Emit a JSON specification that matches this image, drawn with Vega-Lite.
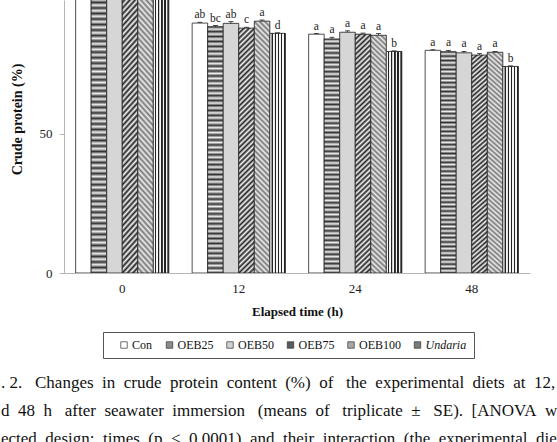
{
  "$schema": "https://vega.github.io/schema/vega-lite/v6.json",
  "width": 466,
  "height": 273,
  "autosize": "none",
  "padding": {"left": 64, "right": 27, "top": 0, "bottom": 169},
  "background": "#ffffff",
  "config": {
    "view": {"stroke": null},
    "font": "Liberation Serif",
    "axis": {"labelFont": "Liberation Serif", "titleFont": "Liberation Serif", "labelColor": "#222", "titleColor": "#111", "grid": false},
    "legend": {"labelFont": "Liberation Serif"}
  },
  "title": {
    "text": [
      ". 2.\u00a0 \u00a0Changes\u00a0 in\u00a0 crude\u00a0 protein\u00a0 content\u00a0 (%)\u00a0 of\u00a0\u00a0 the\u00a0 experimental\u00a0 diets\u00a0 at\u00a0 12,",
      "d\u00a0 48\u00a0 h\u00a0\u00a0 after\u00a0 seawater\u00a0 immersion\u00a0\u00a0 (means\u00a0 of\u00a0\u00a0 triplicate\u00a0 ±\u00a0\u00a0 SE).\u00a0 [ANOVA\u00a0 w",
      "ected\u00a0 design:\u00a0 times\u00a0 (p\u00a0 <\u00a0 0.0001)\u00a0 and\u00a0 their\u00a0 interaction\u00a0 (the\u00a0 experimental\u00a0 diet"
    ],
    "orient": "bottom",
    "anchor": "start",
    "frame": "group",
    "font": "Liberation Serif",
    "fontSize": 17,
    "fontWeight": "normal",
    "color": "#111",
    "lineHeight": 28,
    "baseline": "top",
    "dx": -63,
    "offset": 16
  },
  "data": {
    "values": [
      {"time": "0", "diet": "Con", "value": 99.6, "hi": 99.9, "letter": ""},
      {"time": "0", "diet": "OEB25", "value": 99.3, "hi": 99.6, "letter": ""},
      {"time": "0", "diet": "OEB50", "value": 99.5, "hi": 99.8, "letter": ""},
      {"time": "0", "diet": "OEB75", "value": 99.4, "hi": 99.7, "letter": ""},
      {"time": "0", "diet": "OEB100", "value": 99.6, "hi": 99.9, "letter": ""},
      {"time": "0", "diet": "Undaria", "value": 99.2, "hi": 99.5, "letter": ""},
      {"time": "12", "diet": "Con", "value": 89.9, "hi": 90.2, "letter": "ab"},
      {"time": "12", "diet": "OEB25", "value": 88.6, "hi": 89.0, "letter": "bc"},
      {"time": "12", "diet": "OEB50", "value": 89.8, "hi": 90.4, "letter": "ab"},
      {"time": "12", "diet": "OEB75", "value": 88.1, "hi": 88.4, "letter": "c"},
      {"time": "12", "diet": "OEB100", "value": 90.6, "hi": 91.0, "letter": "a"},
      {"time": "12", "diet": "Undaria", "value": 86.2, "hi": 86.4, "letter": "d"},
      {"time": "24", "diet": "Con", "value": 85.9, "hi": 86.1, "letter": "a"},
      {"time": "24", "diet": "OEB25", "value": 84.2, "hi": 84.8, "letter": "a"},
      {"time": "24", "diet": "OEB50", "value": 86.6, "hi": 87.1, "letter": "a"},
      {"time": "24", "diet": "OEB75", "value": 85.9, "hi": 86.3, "letter": "a"},
      {"time": "24", "diet": "OEB100", "value": 85.5, "hi": 86.1, "letter": "a"},
      {"time": "24", "diet": "Undaria", "value": 79.7, "hi": 79.9, "letter": "b"},
      {"time": "48", "diet": "Con", "value": 80.1, "hi": 80.3, "letter": "a"},
      {"time": "48", "diet": "OEB25", "value": 79.6, "hi": 80.1, "letter": "a"},
      {"time": "48", "diet": "OEB50", "value": 79.2, "hi": 79.7, "letter": "a"},
      {"time": "48", "diet": "OEB75", "value": 78.4, "hi": 78.9, "letter": "a"},
      {"time": "48", "diet": "OEB100", "value": 79.4, "hi": 79.7, "letter": "a"},
      {"time": "48", "diet": "Undaria", "value": 74.3, "hi": 74.5, "letter": "b"}
    ]
  },
  "encoding": {
    "x": {
      "field": "time", "type": "nominal", "sort": ["0", "12", "24", "48"],
      "scale": {"paddingInner": 0.2, "paddingOuter": 0.1},
      "axis": {
        "title": "Elapsed time (h)", "titleFontWeight": "bold", "titleFontSize": 13, "titlePadding": 10,
        "labelAngle": 0, "labelFontSize": 13, "labelPadding": 9, "ticks": false,
        "domainColor": "#b5b5b5", "domainWidth": 1
      }
    },
    "xOffset": {
      "field": "diet", "type": "nominal",
      "sort": ["Con", "OEB25", "OEB50", "OEB75", "OEB100", "Undaria"],
      "scale": {"paddingInner": 0, "paddingOuter": 0}
    }
  },
  "layer": [
    {
      "mark": {"type": "bar", "clip": true},
      "encoding": {
        "y": {
          "field": "value", "type": "quantitative",
          "scale": {"domain": [0, 98.2], "nice": false},
          "axis": {
            "title": "Crude protein (%)", "titleFontWeight": "bold", "titleFontSize": 14,
            "titleAngle": 270, "titleX": -47, "titleY": 119, "titleAlign": "center", "titleBaseline": "middle",
            "values": [0, 50], "labelFontSize": 13, "labelPadding": 7, "tickSize": 5,
            "tickColor": "#b5b5b5", "domainColor": "#b5b5b5"
          }
        },
        "fill": {
          "field": "diet", "type": "nominal",
          "sort": ["Con", "OEB25", "OEB50", "OEB75", "OEB100", "Undaria"],
          "scale": {"domain": ["Con", "OEB25", "OEB50", "OEB75", "OEB100", "Undaria"], "range": ["#ffffff", "#8c8c8c", "#d2d2d2", "#5a5a5a", "#a8a8a8", "#7a7a7a"]},
          "legend": {
            "orient": "none", "legendX": 39, "legendY": 332, "direction": "horizontal", "columns": 6,
            "title": null, "strokeColor": "#555", "fillColor": "#ffffff", "padding": 7,
            "symbolType": "square", "symbolSize": 42, "symbolStrokeColor": "#333", "symbolStrokeWidth": 0.7,
            "symbolOpacity": 1, "labelFontSize": 12, "labelColor": "#111", "labelOffset": 2,
            "columnPadding": 2.5, "symbolOffset": 8,
            "labelFontStyle": {"expr": "datum.label === 'Undaria' ? 'italic' : 'normal'"}
          }
        }
      }
    },
    {
      "mark": {"type": "bar", "clip": true, "stroke": "#222", "strokeWidth": 0.8},
      "encoding": {
        "y": {"field": "value", "type": "quantitative"},
        "fill": {
          "condition": [
            {"test": "datum.diet === 'OEB25'", "value": {"gradient": "linear", "x1": 0, "y1": 0, "x2": 0, "y2": 1, "stops": [
              {"offset": 0, "color": "#333"},{"offset": 0.01, "color": "#eee"},{"offset": 0.02, "color": "#333"},{"offset": 0.03, "color": "#eee"},{"offset": 0.04, "color": "#333"},{"offset": 0.05, "color": "#eee"},{"offset": 0.06, "color": "#333"},{"offset": 0.07, "color": "#eee"},{"offset": 0.08, "color": "#333"},{"offset": 0.09, "color": "#eee"},
              {"offset": 0.1, "color": "#333"},{"offset": 0.11, "color": "#eee"},{"offset": 0.12, "color": "#333"},{"offset": 0.13, "color": "#eee"},{"offset": 0.14, "color": "#333"},{"offset": 0.15, "color": "#eee"},{"offset": 0.16, "color": "#333"},{"offset": 0.17, "color": "#eee"},{"offset": 0.18, "color": "#333"},{"offset": 0.19, "color": "#eee"},
              {"offset": 0.2, "color": "#333"},{"offset": 0.21, "color": "#eee"},{"offset": 0.22, "color": "#333"},{"offset": 0.23, "color": "#eee"},{"offset": 0.24, "color": "#333"},{"offset": 0.25, "color": "#eee"},{"offset": 0.26, "color": "#333"},{"offset": 0.27, "color": "#eee"},{"offset": 0.28, "color": "#333"},{"offset": 0.29, "color": "#eee"},
              {"offset": 0.3, "color": "#333"},{"offset": 0.31, "color": "#eee"},{"offset": 0.32, "color": "#333"},{"offset": 0.33, "color": "#eee"},{"offset": 0.34, "color": "#333"},{"offset": 0.35, "color": "#eee"},{"offset": 0.36, "color": "#333"},{"offset": 0.37, "color": "#eee"},{"offset": 0.38, "color": "#333"},{"offset": 0.39, "color": "#eee"},
              {"offset": 0.4, "color": "#333"},{"offset": 0.41, "color": "#eee"},{"offset": 0.42, "color": "#333"},{"offset": 0.43, "color": "#eee"},{"offset": 0.44, "color": "#333"},{"offset": 0.45, "color": "#eee"},{"offset": 0.46, "color": "#333"},{"offset": 0.47, "color": "#eee"},{"offset": 0.48, "color": "#333"},{"offset": 0.49, "color": "#eee"},
              {"offset": 0.5, "color": "#333"},{"offset": 0.51, "color": "#eee"},{"offset": 0.52, "color": "#333"},{"offset": 0.53, "color": "#eee"},{"offset": 0.54, "color": "#333"},{"offset": 0.55, "color": "#eee"},{"offset": 0.56, "color": "#333"},{"offset": 0.57, "color": "#eee"},{"offset": 0.58, "color": "#333"},{"offset": 0.59, "color": "#eee"},
              {"offset": 0.6, "color": "#333"},{"offset": 0.61, "color": "#eee"},{"offset": 0.62, "color": "#333"},{"offset": 0.63, "color": "#eee"},{"offset": 0.64, "color": "#333"},{"offset": 0.65, "color": "#eee"},{"offset": 0.66, "color": "#333"},{"offset": 0.67, "color": "#eee"},{"offset": 0.68, "color": "#333"},{"offset": 0.69, "color": "#eee"},
              {"offset": 0.7, "color": "#333"},{"offset": 0.71, "color": "#eee"},{"offset": 0.72, "color": "#333"},{"offset": 0.73, "color": "#eee"},{"offset": 0.74, "color": "#333"},{"offset": 0.75, "color": "#eee"},{"offset": 0.76, "color": "#333"},{"offset": 0.77, "color": "#eee"},{"offset": 0.78, "color": "#333"},{"offset": 0.79, "color": "#eee"},
              {"offset": 0.8, "color": "#333"},{"offset": 0.81, "color": "#eee"},{"offset": 0.82, "color": "#333"},{"offset": 0.83, "color": "#eee"},{"offset": 0.84, "color": "#333"},{"offset": 0.85, "color": "#eee"},{"offset": 0.86, "color": "#333"},{"offset": 0.87, "color": "#eee"},{"offset": 0.88, "color": "#333"},{"offset": 0.89, "color": "#eee"},
              {"offset": 0.9, "color": "#333"},{"offset": 0.91, "color": "#eee"},{"offset": 0.92, "color": "#333"},{"offset": 0.93, "color": "#eee"},{"offset": 0.94, "color": "#333"},{"offset": 0.95, "color": "#eee"},{"offset": 0.96, "color": "#333"},{"offset": 0.97, "color": "#eee"},{"offset": 0.98, "color": "#333"},{"offset": 0.99, "color": "#eee"},
              {"offset": 1, "color": "#333"}
            ]}},
            {"test": "datum.diet === 'OEB50'", "value": "#d6d6d6"},
            {"test": "datum.diet === 'OEB75'", "value": {"gradient": "linear", "x1": 0, "y1": 0, "x2": 0.066, "y2": 1.06, "stops": [
              {"offset": 0, "color": "#222"},{"offset": 0.01, "color": "#f5f5f5"},{"offset": 0.02, "color": "#222"},{"offset": 0.03, "color": "#f5f5f5"},{"offset": 0.04, "color": "#222"},{"offset": 0.05, "color": "#f5f5f5"},{"offset": 0.06, "color": "#222"},{"offset": 0.07, "color": "#f5f5f5"},{"offset": 0.08, "color": "#222"},{"offset": 0.09, "color": "#f5f5f5"},
              {"offset": 0.1, "color": "#222"},{"offset": 0.11, "color": "#f5f5f5"},{"offset": 0.12, "color": "#222"},{"offset": 0.13, "color": "#f5f5f5"},{"offset": 0.14, "color": "#222"},{"offset": 0.15, "color": "#f5f5f5"},{"offset": 0.16, "color": "#222"},{"offset": 0.17, "color": "#f5f5f5"},{"offset": 0.18, "color": "#222"},{"offset": 0.19, "color": "#f5f5f5"},
              {"offset": 0.2, "color": "#222"},{"offset": 0.21, "color": "#f5f5f5"},{"offset": 0.22, "color": "#222"},{"offset": 0.23, "color": "#f5f5f5"},{"offset": 0.24, "color": "#222"},{"offset": 0.25, "color": "#f5f5f5"},{"offset": 0.26, "color": "#222"},{"offset": 0.27, "color": "#f5f5f5"},{"offset": 0.28, "color": "#222"},{"offset": 0.29, "color": "#f5f5f5"},
              {"offset": 0.3, "color": "#222"},{"offset": 0.31, "color": "#f5f5f5"},{"offset": 0.32, "color": "#222"},{"offset": 0.33, "color": "#f5f5f5"},{"offset": 0.34, "color": "#222"},{"offset": 0.35, "color": "#f5f5f5"},{"offset": 0.36, "color": "#222"},{"offset": 0.37, "color": "#f5f5f5"},{"offset": 0.38, "color": "#222"},{"offset": 0.39, "color": "#f5f5f5"},
              {"offset": 0.4, "color": "#222"},{"offset": 0.41, "color": "#f5f5f5"},{"offset": 0.42, "color": "#222"},{"offset": 0.43, "color": "#f5f5f5"},{"offset": 0.44, "color": "#222"},{"offset": 0.45, "color": "#f5f5f5"},{"offset": 0.46, "color": "#222"},{"offset": 0.47, "color": "#f5f5f5"},{"offset": 0.48, "color": "#222"},{"offset": 0.49, "color": "#f5f5f5"},
              {"offset": 0.5, "color": "#222"},{"offset": 0.51, "color": "#f5f5f5"},{"offset": 0.52, "color": "#222"},{"offset": 0.53, "color": "#f5f5f5"},{"offset": 0.54, "color": "#222"},{"offset": 0.55, "color": "#f5f5f5"},{"offset": 0.56, "color": "#222"},{"offset": 0.57, "color": "#f5f5f5"},{"offset": 0.58, "color": "#222"},{"offset": 0.59, "color": "#f5f5f5"},
              {"offset": 0.6, "color": "#222"},{"offset": 0.61, "color": "#f5f5f5"},{"offset": 0.62, "color": "#222"},{"offset": 0.63, "color": "#f5f5f5"},{"offset": 0.64, "color": "#222"},{"offset": 0.65, "color": "#f5f5f5"},{"offset": 0.66, "color": "#222"},{"offset": 0.67, "color": "#f5f5f5"},{"offset": 0.68, "color": "#222"},{"offset": 0.69, "color": "#f5f5f5"},
              {"offset": 0.7, "color": "#222"},{"offset": 0.71, "color": "#f5f5f5"},{"offset": 0.72, "color": "#222"},{"offset": 0.73, "color": "#f5f5f5"},{"offset": 0.74, "color": "#222"},{"offset": 0.75, "color": "#f5f5f5"},{"offset": 0.76, "color": "#222"},{"offset": 0.77, "color": "#f5f5f5"},{"offset": 0.78, "color": "#222"},{"offset": 0.79, "color": "#f5f5f5"},
              {"offset": 0.8, "color": "#222"},{"offset": 0.81, "color": "#f5f5f5"},{"offset": 0.82, "color": "#222"},{"offset": 0.83, "color": "#f5f5f5"},{"offset": 0.84, "color": "#222"},{"offset": 0.85, "color": "#f5f5f5"},{"offset": 0.86, "color": "#222"},{"offset": 0.87, "color": "#f5f5f5"},{"offset": 0.88, "color": "#222"},{"offset": 0.89, "color": "#f5f5f5"},
              {"offset": 0.9, "color": "#222"},{"offset": 0.91, "color": "#f5f5f5"},{"offset": 0.92, "color": "#222"},{"offset": 0.93, "color": "#f5f5f5"},{"offset": 0.94, "color": "#222"},{"offset": 0.95, "color": "#f5f5f5"},{"offset": 0.96, "color": "#222"},{"offset": 0.97, "color": "#f5f5f5"},{"offset": 0.98, "color": "#222"},{"offset": 0.99, "color": "#f5f5f5"},
              {"offset": 1, "color": "#222"}
            ]}},
            {"test": "datum.diet === 'OEB100'", "value": {"gradient": "linear", "x1": 1, "y1": 0, "x2": 0.934, "y2": 1.06, "stops": [
              {"offset": 0, "color": "#777"},{"offset": 0.01, "color": "#eee"},{"offset": 0.02, "color": "#777"},{"offset": 0.03, "color": "#eee"},{"offset": 0.04, "color": "#777"},{"offset": 0.05, "color": "#eee"},{"offset": 0.06, "color": "#777"},{"offset": 0.07, "color": "#eee"},{"offset": 0.08, "color": "#777"},{"offset": 0.09, "color": "#eee"},
              {"offset": 0.1, "color": "#777"},{"offset": 0.11, "color": "#eee"},{"offset": 0.12, "color": "#777"},{"offset": 0.13, "color": "#eee"},{"offset": 0.14, "color": "#777"},{"offset": 0.15, "color": "#eee"},{"offset": 0.16, "color": "#777"},{"offset": 0.17, "color": "#eee"},{"offset": 0.18, "color": "#777"},{"offset": 0.19, "color": "#eee"},
              {"offset": 0.2, "color": "#777"},{"offset": 0.21, "color": "#eee"},{"offset": 0.22, "color": "#777"},{"offset": 0.23, "color": "#eee"},{"offset": 0.24, "color": "#777"},{"offset": 0.25, "color": "#eee"},{"offset": 0.26, "color": "#777"},{"offset": 0.27, "color": "#eee"},{"offset": 0.28, "color": "#777"},{"offset": 0.29, "color": "#eee"},
              {"offset": 0.3, "color": "#777"},{"offset": 0.31, "color": "#eee"},{"offset": 0.32, "color": "#777"},{"offset": 0.33, "color": "#eee"},{"offset": 0.34, "color": "#777"},{"offset": 0.35, "color": "#eee"},{"offset": 0.36, "color": "#777"},{"offset": 0.37, "color": "#eee"},{"offset": 0.38, "color": "#777"},{"offset": 0.39, "color": "#eee"},
              {"offset": 0.4, "color": "#777"},{"offset": 0.41, "color": "#eee"},{"offset": 0.42, "color": "#777"},{"offset": 0.43, "color": "#eee"},{"offset": 0.44, "color": "#777"},{"offset": 0.45, "color": "#eee"},{"offset": 0.46, "color": "#777"},{"offset": 0.47, "color": "#eee"},{"offset": 0.48, "color": "#777"},{"offset": 0.49, "color": "#eee"},
              {"offset": 0.5, "color": "#777"},{"offset": 0.51, "color": "#eee"},{"offset": 0.52, "color": "#777"},{"offset": 0.53, "color": "#eee"},{"offset": 0.54, "color": "#777"},{"offset": 0.55, "color": "#eee"},{"offset": 0.56, "color": "#777"},{"offset": 0.57, "color": "#eee"},{"offset": 0.58, "color": "#777"},{"offset": 0.59, "color": "#eee"},
              {"offset": 0.6, "color": "#777"},{"offset": 0.61, "color": "#eee"},{"offset": 0.62, "color": "#777"},{"offset": 0.63, "color": "#eee"},{"offset": 0.64, "color": "#777"},{"offset": 0.65, "color": "#eee"},{"offset": 0.66, "color": "#777"},{"offset": 0.67, "color": "#eee"},{"offset": 0.68, "color": "#777"},{"offset": 0.69, "color": "#eee"},
              {"offset": 0.7, "color": "#777"},{"offset": 0.71, "color": "#eee"},{"offset": 0.72, "color": "#777"},{"offset": 0.73, "color": "#eee"},{"offset": 0.74, "color": "#777"},{"offset": 0.75, "color": "#eee"},{"offset": 0.76, "color": "#777"},{"offset": 0.77, "color": "#eee"},{"offset": 0.78, "color": "#777"},{"offset": 0.79, "color": "#eee"},
              {"offset": 0.8, "color": "#777"},{"offset": 0.81, "color": "#eee"},{"offset": 0.82, "color": "#777"},{"offset": 0.83, "color": "#eee"},{"offset": 0.84, "color": "#777"},{"offset": 0.85, "color": "#eee"},{"offset": 0.86, "color": "#777"},{"offset": 0.87, "color": "#eee"},{"offset": 0.88, "color": "#777"},{"offset": 0.89, "color": "#eee"},
              {"offset": 0.9, "color": "#777"},{"offset": 0.91, "color": "#eee"},{"offset": 0.92, "color": "#777"},{"offset": 0.93, "color": "#eee"},{"offset": 0.94, "color": "#777"},{"offset": 0.95, "color": "#eee"},{"offset": 0.96, "color": "#777"},{"offset": 0.97, "color": "#eee"},{"offset": 0.98, "color": "#777"},{"offset": 0.99, "color": "#eee"},
              {"offset": 1, "color": "#777"}
            ]}},
            {"test": "datum.diet === 'Undaria'", "value": {"gradient": "linear", "x1": 0, "y1": 0, "x2": 1, "y2": 0, "stops": [
              {"offset": 0, "color": "#f5f5f5"},{"offset": 0.1, "color": "#f5f5f5"},{"offset": 0.12, "color": "#222"},{"offset": 0.19, "color": "#222"},
              {"offset": 0.2, "color": "#f5f5f5"},{"offset": 0.3, "color": "#f5f5f5"},{"offset": 0.32, "color": "#222"},{"offset": 0.39, "color": "#222"},
              {"offset": 0.4, "color": "#f5f5f5"},{"offset": 0.5, "color": "#f5f5f5"},{"offset": 0.52, "color": "#222"},{"offset": 0.59, "color": "#222"},
              {"offset": 0.6, "color": "#f5f5f5"},{"offset": 0.7, "color": "#f5f5f5"},{"offset": 0.72, "color": "#222"},{"offset": 0.79, "color": "#222"},
              {"offset": 0.8, "color": "#f5f5f5"},{"offset": 0.9, "color": "#f5f5f5"},{"offset": 0.92, "color": "#222"},{"offset": 1, "color": "#222"}
            ]}}
          ],
          "value": "#ffffff"
        }
      }
    },
    {
      "mark": {"type": "rule", "stroke": "#222", "strokeWidth": 0.8},
      "encoding": {
        "y": {"field": "value", "type": "quantitative"},
        "y2": {"field": "hi"}
      }
    },
    {
      "mark": {"type": "tick", "color": "#222", "thickness": 0.8, "size": 5, "opacity": 1},
      "encoding": {
        "y": {"field": "hi", "type": "quantitative"}
      }
    },
    {
      "mark": {"type": "text", "baseline": "alphabetic", "dy": -4, "font": "Liberation Serif", "fontSize": 11.5, "color": "#222"},
      "encoding": {
        "y": {"field": "hi", "type": "quantitative"},
        "text": {"field": "letter"}
      }
    }
  ]
}
